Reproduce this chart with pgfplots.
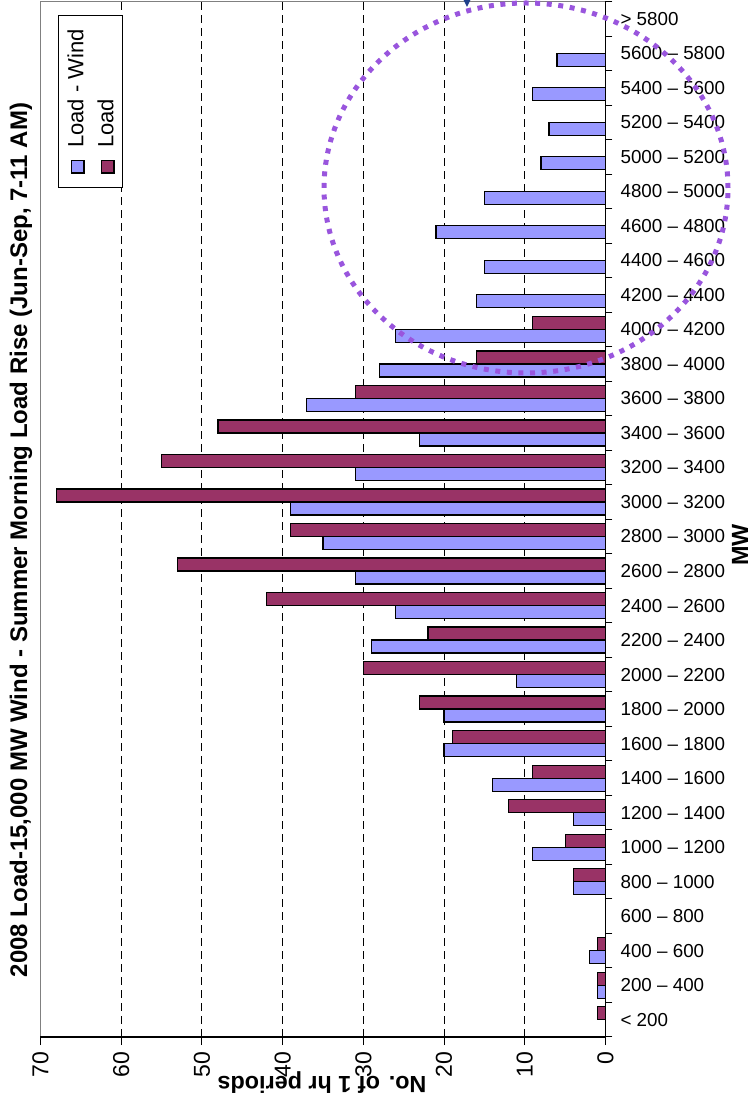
\documentclass[border=0pt]{standalone}
\usepackage{fontspec}
\setmainfont{Liberation Sans}
\usepackage{pgfplots}
\pgfplotsset{compat=1.18}

\definecolor{lwfill}{RGB}{153,153,255}
\definecolor{ldfill}{RGB}{153,51,102}
\definecolor{framegray}{RGB}{128,128,128}
\definecolor{ringpurple}{RGB}{153,85,221}
\definecolor{markblue}{RGB}{31,64,140}

% Hours per 200 MW band (band 1 = "< 200", band 30 = "> 5800")
\pgfplotstableread{
band count
2 1
3 2
5 4
6 9
7 4
8 14
9 20
10 20
11 11
12 29
13 26
14 31
15 35
16 39
17 31
18 23
19 37
20 28
21 26
22 16
23 15
24 21
25 15
26 8
27 7
28 9
29 6
}\loadminuswind

\pgfplotstableread{
band count
1 1
2 1
3 1
5 4
6 5
7 12
8 9
9 19
10 23
11 30
12 22
13 42
14 53
15 39
16 68
17 55
18 48
19 31
20 16
21 9
}\loadonly

\newcommand{\swatch}[1]{{\setlength{\fboxsep}{0pt}\setlength{\fboxrule}{0.6pt}\fcolorbox{black}{#1}{\rule{0pt}{5.6pt}\rule{5.6pt}{0pt}}}}
\newcommand{\legfont}{\fontsize{11}{13}\selectfont}

\begin{document}
\begin{tikzpicture}
\begin{axis}[
  at={(0,0)}, anchor=south west,
  scale only axis, width=282.5pt, height=517.75pt,
  xbar, bar width=6.5pt,
  x dir=reverse,
  xmin=0, xmax=70, ymin=0.5, ymax=30.5,
  clip=false,
  xtick={10,20,...,60},
  extra x ticks={0,70},
  extra x tick style={grid=none},
  xtick pos=left,
  xmajorgrids,
  grid style={black, line width=0.5pt, dash pattern=on 4pt off 2.5pt},
  ytick={1,...,30},
  yticklabels={{< 200},{200 -- 400},{400 -- 600},{600 -- 800},{800 -- 1000},
    {1000 -- 1200},{1200 -- 1400},{1400 -- 1600},{1600 -- 1800},{1800 -- 2000},
    {2000 -- 2200},{2200 -- 2400},{2400 -- 2600},{2600 -- 2800},{2800 -- 3000},
    {3000 -- 3200},{3200 -- 3400},{3400 -- 3600},{3600 -- 3800},{3800 -- 4000},
    {4000 -- 4200},{4200 -- 4400},{4400 -- 4600},{4600 -- 4800},{4800 -- 5000},
    {5000 -- 5200},{5200 -- 5400},{5400 -- 5600},{5600 -- 5800},{> 5800}},
  ytick pos=right,
  yticklabel pos=right,
  minor ytick={0.5,1.5,...,30.5},
  major y tick style={draw=none},
  minor y tick style={draw=black, line width=0.5pt},
  tick align=outside,
  major tick length=4pt,
  minor tick length=3.5pt,
  x tick style={black, line width=0.5pt},
  axis line style={framegray, line width=0.6pt},
  xticklabel style={rotate=90, anchor=east, font=\fontsize{11.5}{12}\selectfont},
  yticklabel style={anchor=west, font=\fontsize{9.4}{10}\selectfont},
  /pgf/number format/assume math mode=true,
]
\addplot[fill=lwfill, draw=black, line width=0.6pt, bar shift=-3.25pt]
  table[x=count, y=band] {\loadminuswind};
\addplot[fill=ldfill, draw=black, line width=0.6pt, bar shift=3.25pt]
  table[x=count, y=band] {\loadonly};
% black value and category axes over the grey plot frame
\draw[black, line width=0.6pt] (axis cs:70,0.5) -- (axis cs:0,0.5) -- (axis cs:0,30.5);
\end{axis}

% titles
\node[rotate=90, font=\bfseries\fontsize{12}{13}\selectfont] at (-9.75pt,248.5pt)
  {2008 Load-15,000 MW Wind - Summer Morning Load Rise (Jun-Sep, 7-11 AM)};
\node[rotate=180, font=\bfseries\fontsize{11.7}{12}\selectfont] at (140.75pt,-23pt)
  {No. of 1 hr periods};
\node[rotate=90, font=\bfseries\fontsize{11.7}{12}\selectfont] at (349.75pt,246pt) {MW};

% legend: frame, then the two rotated entries
\node[draw=black, line width=0.5pt, fill=white, rotate=90,
      minimum width=86pt, minimum height=32pt, inner sep=0pt] at (25.25pt,467.5pt) {};
\node[rotate=90, anchor=west, inner sep=0pt] at (17.75pt,431.5pt)
  {\swatch{lwfill}\hspace{6pt}{\legfont Load - Wind}};
\node[rotate=90, anchor=west, inner sep=0pt] at (32.75pt,431.5pt)
  {\swatch{ldfill}\hspace{6pt}{\legfont Load}};

% dotted ring around the upper bands
\draw[ringpurple, line width=2.5pt, dash pattern=on 2.5pt off 3.3pt]
  (242.75pt,424.5pt) ellipse [x radius=101pt, y radius=92.5pt];
\fill[markblue] (211.5pt,518.5pt) -- (215pt,518.5pt) -- (213.25pt,515pt) -- cycle;

\pgfresetboundingbox
\path[use as bounding box] (-20.25pt,-33.5pt) rectangle (356.25pt,518.5pt);
\end{tikzpicture}
\end{document}
